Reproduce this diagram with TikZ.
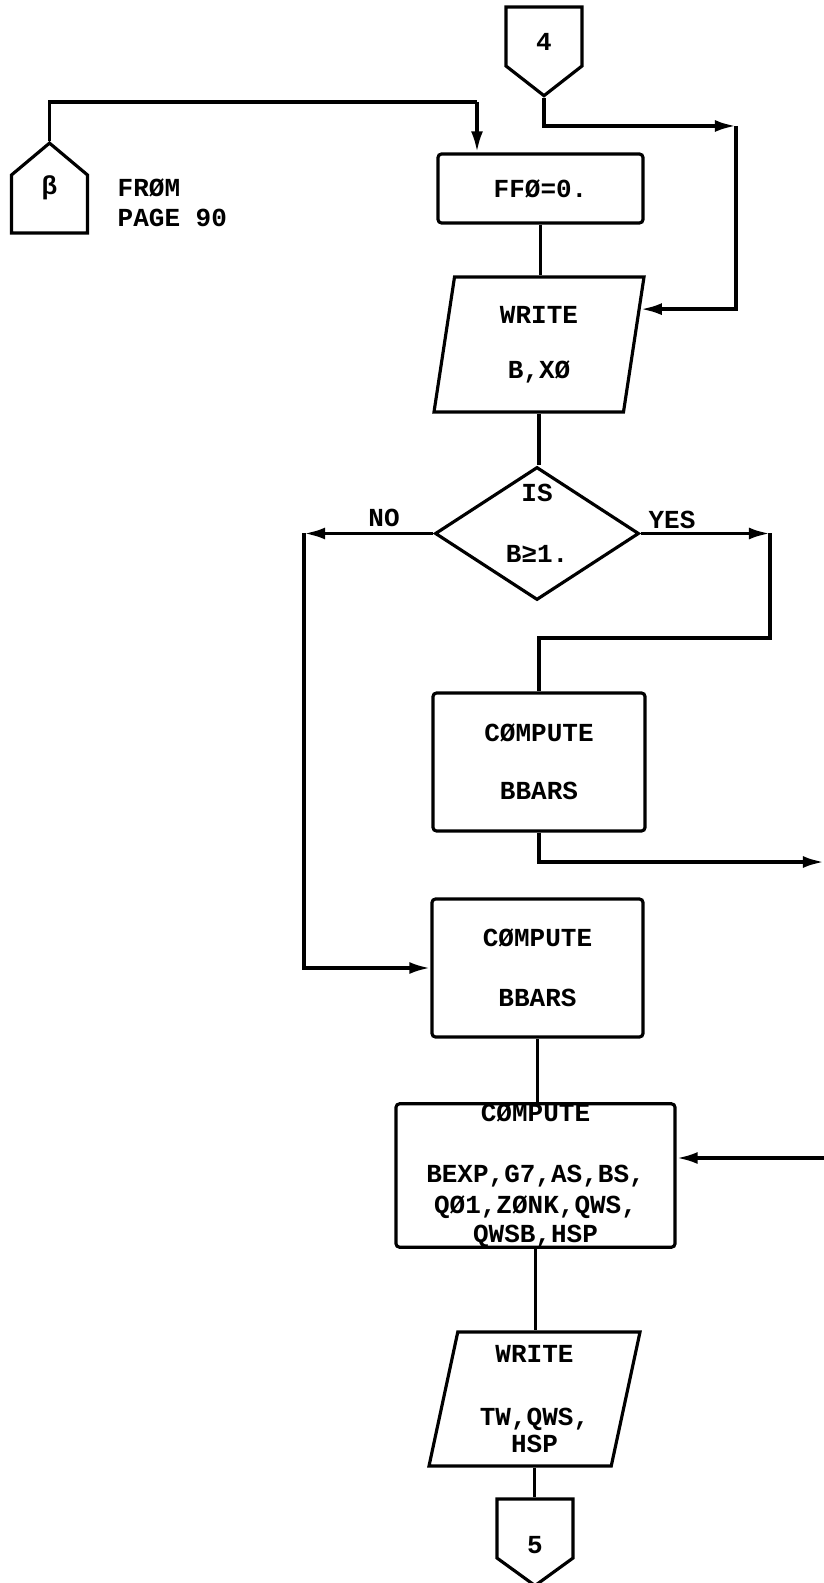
\documentclass[tikz,border=0pt]{standalone}
\usepackage{fontspec}
\newfontfamily\flowfont{Liberation Mono}
\usetikzlibrary{arrows.meta,shapes.geometric,shapes.symbols,calc}

\begin{document}
\begin{tikzpicture}[
        flow/.style={draw,line width=1pt},
        arr/.style={flow,-{Latex[length=6pt,width=3.4pt]}},
        txt/.style={font=\flowfont\bfseries\fontsize{7.4}{9}\selectfont,
                    inner sep=0pt},
        procbox/.style={txt,draw,line width=0.9pt,rectangle,
                        rounded corners=1pt,align=center},
        iobox/.style={txt,draw,line width=0.9pt,trapezium,
                      trapezium left angle=75,trapezium right angle=105,
                      trapezium stretches body,align=center},
        decide/.style={txt,draw,line width=0.9pt,diamond},
        offpage/.style={txt,draw,line width=0.9pt,signal,
                        signal from=nowhere,minimum width=0.76cm}
      ]
        \useasboundingbox (0,0) rectangle (8.24,-15.83);
        % off-page connectors
        \node[offpage,signal to=south,signal pointer angle=104,
              minimum height=0.59cm,
              label={[txt,yshift=-0.055cm]center:4}] (con4) at (5.44,-0.365) {};
        \node[offpage,signal to=north,signal pointer angle=100,
              minimum height=0.58cm,
              label={[txt,yshift=0.16cm]center:β}] (conb) at (0.495,-2.04) {};
        \node[txt,align=left,anchor=west] (frompg) at (1.17,-2.03)
          {FRØM\\[-0.5pt]PAGE 90};
        \node[offpage,signal to=south,signal pointer angle=108,
              minimum height=0.59cm,
              label={[txt,yshift=-0.17cm]center:5}] (con5) at (5.35,-15.285) {};
        % main column
        \node[procbox,minimum width=2.05cm,minimum height=0.69cm]
          (ffo) at (5.405,-1.885) {FFØ=0.};
        \node[iobox,minimum width=2.10cm,minimum height=1.35cm]
          (wrbx) at (5.39,-3.445) {WRITE\\[6.6pt]B,XØ};
        \node[decide,minimum width=2.04cm,minimum height=1.33cm,
              label={[txt,align=center,yshift=0.105cm]center:{IS\\[8.3pt]B≥1.}}]
          (isb) at (5.37,-5.335) {};
        \node[procbox,minimum width=2.12cm,minimum height=1.38cm]
          (bbar1) at (5.39,-7.62) {CØMPUTE\\[7.5pt]BBARS};
        \node[procbox,minimum width=2.11cm,minimum height=1.38cm]
          (bbar2) at (5.375,-9.68) {CØMPUTE\\[8pt]BBARS};
        \node[procbox,minimum width=2.79cm,minimum height=1.43cm]
          (bexp) at (5.355,-11.755)
          {CØMPUTE\\[8.3pt]BEXP,G7,AS,BS,\\ QØ1,ZØNK,QWS,\\[-1pt]QWSB,HSP};
        \node[iobox,minimum width=2.11cm,minimum height=1.34cm]
          (wrtw) at (5.345,-13.99) {WRITE\\[8.9pt]TW,QWS,\\[-1.3pt]HSP};
        \node[txt] (nolbl) at (3.84,-5.18) {NO};
        \node[txt] (yeslbl) at (6.72,-5.20) {YES};
        % corner points
        \coordinate (topin) at (4.77,-1.02);
        \coordinate (rloop) at (7.36,-1.26);
        \coordinate (nocor) at (3.04,-5.32);
        \coordinate (yescor) at (7.70,-5.35);
        \coordinate (yesjoin) at (5.39,-6.38);
        \coordinate (exit1) at (8.24,-8.62);
        \coordinate (entry) at (8.24,-11.58);
        % connectors
        \draw[flow] (conb.north) |- (topin);
        \draw[arr] (topin) -- (topin |- ffo.north);
        \draw[arr] (con4.south) |- (rloop);
        \draw[arr] (rloop) |- ($(wrbx.top right corner)!0.244!(wrbx.bottom right corner)$);
        \draw[flow] (ffo.south) -- (ffo.south |- wrbx.north);
        \draw[flow] (wrbx.south) -- (wrbx.south |- isb.north);
        \draw[arr] (isb.west) -- (isb.west -| nocor);
        \draw[arr] (isb.west -| nocor) |- (bbar2.west);
        \draw[arr] (isb.east) -- (isb.east -| yescor);
        \draw[flow] (isb.east -| yescor) |- (bbar1.north |- yesjoin)
          -- (bbar1.north);
        \draw[arr] (bbar1.south) |- (exit1);
        \draw[flow] (bbar2.south) -- (bbar2.south |- bexp.north);
        \draw[arr] (entry) -- (entry -| bexp.east);
        \draw[flow] (bexp.south) -- (bexp.south |- wrtw.north);
        \draw[flow] (wrtw.south) -- (wrtw.south |- con5.north);
      \end{tikzpicture}
\end{document}
